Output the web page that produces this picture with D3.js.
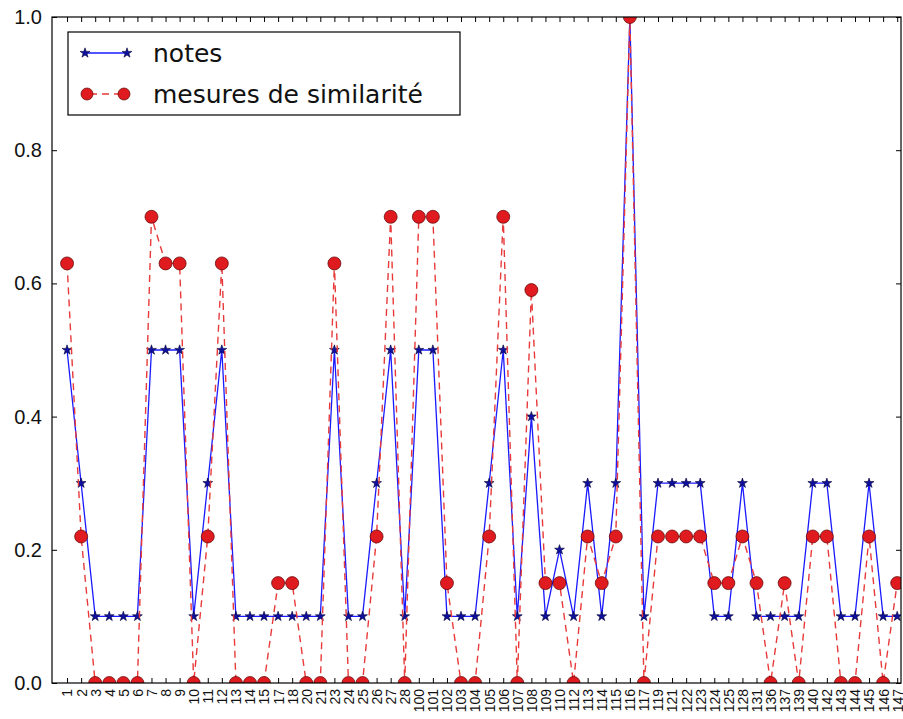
<!DOCTYPE html>
<html>
<head>
<meta charset="utf-8">
<script src="https://cdn.jsdelivr.net/npm/d3@7"></script>
<style>
  body { margin: 0; background: #fff; }
  svg { display: block; font-family: "DejaVu Sans", sans-serif; }
</style>
</head>
<body>
<div id="chart"></div>
<script>
// categories (x tick labels)
var labels = ["1","2","3","4","5","6","7","8","9","10","11","12","13","14","15","17","18","20","21","23",
  "24","25","26","27","28","100","101","102","103","104","105","106","107","108","109","110","112","113","114","115",
  "116","117","119","121","122","123","124","125","128","131","136","137","139","140","142","143","144","145","146","147"];

// series
var notes = [0.5,0.3,0.1,0.1,0.1,0.1,0.5,0.5,0.5,0.1,
  0.3,0.5,0.1,0.1,0.1,0.1,0.1,0.1,0.1,0.5,
  0.1,0.1,0.3,0.5,0.1,0.5,0.5,0.1,0.1,0.1,
  0.3,0.5,0.1,0.4,0.1,0.2,0.1,0.3,0.1,0.3,
  1.0,0.1,0.3,0.3,0.3,0.3,0.1,0.1,0.3,0.1,
  0.1,0.1,0.1,0.3,0.3,0.1,0.1,0.3,0.1,0.1];

var similarite = [0.63,0.22,0,0,0,0,0.70,0.63,0.63,0,
  0.22,0.63,0,0,0,0.15,0.15,0,0,0.63,
  0,0,0.22,0.70,0,0.70,0.70,0.15,0,0,
  0.22,0.70,0,0.59,0.15,0.15,0,0.22,0.15,0.22,
  1.0,0,0.22,0.22,0.22,0.22,0.15,0.15,0.22,0.15,
  0,0.15,0,0.22,0.22,0,0,0.22,0,0.15];

var yTicks = [0, 0.2, 0.4, 0.6, 0.8, 1.0];

var width = 903, height = 719;
var plotL = 52, plotR = 901, plotT = 17, plotB = 683;

var svg = d3.select("#chart").append("svg")
    .attr("width", width)
    .attr("height", height);

var x = d3.scaleLinear().domain([-1.07, 59.27]).range([plotL, plotR]);
var y = d3.scaleLinear().domain([0, 1]).range([plotB, plotT]);

svg.append("clipPath").attr("id", "clip")
  .append("rect")
    .attr("x", plotL).attr("y", plotT)
    .attr("width", plotR - plotL).attr("height", plotB - plotT);

var idx = d3.range(labels.length);

// axes: ticks inward on all four sides
var fmt = d3.format(".1f");
svg.append("g")
    .attr("transform", "translate(" + plotL + ",0)")
    .call(d3.axisLeft(y).tickValues(yTicks).tickFormat(fmt).tickSizeInner(-5).tickSizeOuter(0).tickPadding(10))
    .call(function(g) { g.select(".domain").remove(); })
    .selectAll("text").attr("font-size", "20px").attr("fill", "#111");

svg.append("g")
    .attr("transform", "translate(" + plotR + ",0)")
    .call(d3.axisRight(y).tickValues(yTicks).tickFormat("").tickSizeInner(-5).tickSizeOuter(0))
    .call(function(g) { g.select(".domain").remove(); });

var xb = svg.append("g")
    .attr("transform", "translate(0," + plotB + ")")
    .call(d3.axisBottom(x).tickValues(idx).tickFormat(function(i) { return labels[i]; })
      .tickSizeInner(-5).tickSizeOuter(0))
    .call(function(g) { g.select(".domain").remove(); });

xb.selectAll("text")
    .attr("font-size", "14px")
    .attr("fill", "#111")
    .attr("text-anchor", "end")
    .attr("transform", "rotate(-90)")
    .attr("x", -6)
    .attr("y", 0)
    .attr("dy", "0.35em");

svg.append("g")
    .attr("transform", "translate(0," + plotT + ")")
    .call(d3.axisTop(x).tickValues(idx).tickFormat("").tickSizeInner(-5).tickSizeOuter(0))
    .call(function(g) { g.select(".domain").remove(); });

svg.selectAll(".tick line").attr("stroke", "#000");

// series
var plot = svg.append("g").attr("clip-path", "url(#clip)");

var line = d3.line()
    .x(function(d, i) { return x(i); })
    .y(function(d) { return y(d); });

var star = d3.symbol().type(d3.symbolStar).size(30);

plot.append("path")
    .datum(notes)
    .attr("fill", "none")
    .attr("stroke", "#1a1aff")
    .attr("stroke-width", 1.3)
    .attr("d", line);

plot.selectAll(".star")
    .data(notes)
  .enter().append("path")
    .attr("class", "star")
    .attr("transform", function(d, i) { return "translate(" + x(i) + "," + y(d) + ")"; })
    .attr("d", star)
    .attr("fill", "#1010a0")
    .attr("stroke", "#000033")
    .attr("stroke-width", 0.6);

plot.append("path")
    .datum(similarite)
    .attr("fill", "none")
    .attr("stroke", "#e83a3a")
    .attr("stroke-width", 1.4)
    .attr("stroke-dasharray", "7,5")
    .attr("d", line);

plot.selectAll(".dot")
    .data(similarite)
  .enter().append("circle")
    .attr("class", "dot")
    .attr("cx", function(d, i) { return x(i); })
    .attr("cy", function(d) { return y(d); })
    .attr("r", 6.5)
    .attr("fill", "#e01b1f")
    .attr("stroke", "#5a0000")
    .attr("stroke-width", 0.7);

// frame
svg.append("rect")
    .attr("x", plotL).attr("y", plotT)
    .attr("width", plotR - plotL).attr("height", plotB - plotT)
    .attr("fill", "none")
    .attr("stroke", "#000")
    .attr("stroke-width", 1.2);

// legend
var legend = svg.append("g").attr("transform", "translate(68,32)");

legend.append("rect")
    .attr("width", 392).attr("height", 83)
    .attr("fill", "#fff")
    .attr("stroke", "#000")
    .attr("stroke-width", 1.2);

var l1 = legend.append("g").attr("transform", "translate(0,21)");
l1.append("line").attr("x1", 17).attr("x2", 59)
    .attr("stroke", "#1a1aff").attr("stroke-width", 1.3);
l1.selectAll("path").data([17, 59]).enter().append("path")
    .attr("transform", function(d) { return "translate(" + d + ",0)"; })
    .attr("d", star)
    .attr("fill", "#1010a0").attr("stroke", "#000033").attr("stroke-width", 0.6);
l1.append("text").attr("x", 85).attr("dy", "0.35em")
    .attr("font-size", "25px").attr("fill", "#111").text("notes");

var l2 = legend.append("g").attr("transform", "translate(0,62)");
l2.append("line").attr("x1", 19).attr("x2", 56)
    .attr("stroke", "#e83a3a").attr("stroke-width", 1.4).attr("stroke-dasharray", "7,5")
    .attr("stroke-dashoffset", -3);
l2.selectAll("circle").data([19, 56]).enter().append("circle")
    .attr("cx", function(d) { return d; })
    .attr("r", 6)
    .attr("fill", "#e01b1f").attr("stroke", "#5a0000").attr("stroke-width", 0.7);
l2.append("text").attr("x", 85).attr("dy", "0.35em")
    .attr("font-size", "25px").attr("fill", "#111").text("mesures de similarité");
</script>
</body>
</html>
